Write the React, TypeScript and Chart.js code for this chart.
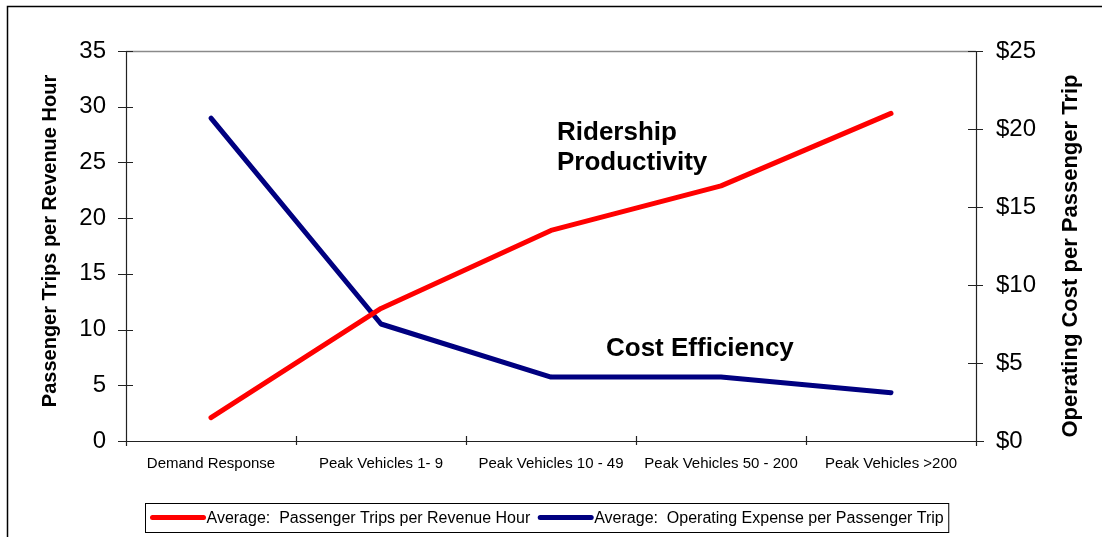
import React, { useEffect, useRef } from "react";
import { Chart, registerables } from "chart.js";

Chart.register(...registerables);

const FONT = "'Liberation Sans', Arial, Helvetica, sans-serif";

const categories = [
  "Demand Response",
  "Peak Vehicles 1- 9",
  "Peak Vehicles 10 - 49",
  "Peak Vehicles 50 - 200",
  "Peak Vehicles >200",
];
const tripsPerRevenueHour = [2.1, 11.9, 18.9, 22.9, 29.4];
const costPerPassengerTrip = [20.7, 7.5, 4.1, 4.1, 3.1];

const seriesLabels = [
  "Average:  Passenger Trips per Revenue Hour",
  "Average:  Operating Expense per Passenger Trip",
];
const seriesColors = ["#FF0000", "#000080"];

const leftAxisTitle = "Passenger Trips per Revenue Hour";
const rightAxisTitle = "Operating Cost per Passenger Trip";
const leftRange = [0, 35, 5];
const rightRange = [0, 25, 5];

const annotationLines = [
  { text: "Ridership", dx: 431, y: 133 },
  { text: "Productivity", dx: 431, y: 163 },
  { text: "Cost Efficiency", dx: 480, y: 349 },
];

const decorPlugin = {
  id: "decor",
  beforeDatasetsDraw(chart: any) {
    const ctx = chart.ctx;
    const a = chart.chartArea;
    const x = chart.scales.x;
    const yl = chart.scales.y;
    const yr = chart.scales.y1;
    ctx.save();
    ctx.strokeStyle = "#000";
    ctx.lineWidth = 1.5;
    ctx.beginPath();
    ctx.moveTo(7.5, chart.height + 2);
    ctx.lineTo(7.5, 6.5);
    ctx.lineTo(chart.width + 2, 6.5);
    ctx.stroke();

    ctx.strokeStyle = "#8a8a8a";
    ctx.lineWidth = 1.5;
    ctx.beginPath();
    ctx.moveTo(a.left, a.top + 0.5);
    ctx.lineTo(a.right, a.top + 0.5);
    ctx.stroke();

    ctx.strokeStyle = "#222";
    ctx.lineWidth = 1.2;
    ctx.beginPath();
    ctx.moveTo(a.left + 0.5, a.top);
    ctx.lineTo(a.left + 0.5, a.bottom + 5);
    ctx.moveTo(a.right + 0.5, a.top);
    ctx.lineTo(a.right + 0.5, a.bottom + 5);
    ctx.moveTo(a.left - 8, a.bottom + 0.5);
    ctx.lineTo(a.right + 8, a.bottom + 0.5);
    for (let v = leftRange[0]; v <= leftRange[1]; v += leftRange[2]) {
      const py = Math.round(yl.getPixelForValue(v)) + 0.5;
      ctx.moveTo(a.left - 8, py);
      ctx.lineTo(a.left + 7, py);
    }
    for (let v = rightRange[0]; v <= rightRange[1]; v += rightRange[2]) {
      const py = Math.round(yr.getPixelForValue(v)) + 0.5;
      ctx.moveTo(a.right - 8, py);
      ctx.lineTo(a.right + 7, py);
    }
    const n = categories.length;
    for (let i = 0; i <= n; i++) {
      let px;
      if (i === 0) px = a.left;
      else if (i === n) px = a.right;
      else px = (x.getPixelForTick(i - 1) + x.getPixelForTick(i)) / 2;
      px = Math.round(px) + 0.5;
      ctx.moveTo(px, a.bottom - 5);
      ctx.lineTo(px, a.bottom + 4);
    }
    ctx.stroke();
    ctx.restore();
  },
  afterDraw(chart: any) {
    const ctx = chart.ctx;
    const a = chart.chartArea;
    ctx.save();
    ctx.fillStyle = "#000";
    ctx.textAlign = "center";
    ctx.textBaseline = "middle";
    ctx.font = `bold 20px ${FONT}`;
    ctx.save();
    ctx.translate(50, 241);
    ctx.rotate(-Math.PI / 2);
    ctx.fillText(leftAxisTitle, 0, 0);
    ctx.restore();
    ctx.font = `bold 22px ${FONT}`;
    ctx.save();
    ctx.translate(1071, 256);
    ctx.rotate(-Math.PI / 2);
    ctx.fillText(rightAxisTitle, 0, 0);
    ctx.restore();

    ctx.font = `bold 26px ${FONT}`;
    ctx.textAlign = "left";
    for (const an of annotationLines) {
      ctx.fillText(an.text, a.left + an.dx, an.y);
    }

    ctx.font = `16px ${FONT}`;
    const sample = 55;
    const gap = 8;
    const pad = 5;
    const w0 = ctx.measureText(seriesLabels[0]).width;
    const w1 = ctx.measureText(seriesLabels[1]).width;
    const total = pad + sample + 1 + w0 + gap + sample + 1 + w1 + pad;
    const cx = 547;
    const bx = Math.round(cx - total / 2) + 0.5;
    const by = 503.5;
    const bh = 29;
    ctx.strokeStyle = "#000";
    ctx.lineWidth = 1;
    ctx.strokeRect(bx, by, total, bh);
    const my = by + bh / 2 - 0.5;
    let cur = bx + pad;
    const items = [w0, w1];
    ctx.lineCap = "round";
    for (let i = 0; i < 2; i++) {
      ctx.strokeStyle = seriesColors[i];
      ctx.lineWidth = 5;
      ctx.beginPath();
      ctx.moveTo(cur + 2, my);
      ctx.lineTo(cur + sample - 2, my);
      ctx.stroke();
      cur += sample + 1;
      ctx.fillStyle = "#000";
      ctx.textBaseline = "middle";
      ctx.fillText(seriesLabels[i], cur, my + 1);
      cur += items[i] + gap;
    }
    ctx.restore();
  },
};

export default function App() {
  const ref = useRef<HTMLCanvasElement | null>(null);
  useEffect(() => {
    if (!ref.current) return;
    Chart.defaults.font.family = FONT;
    const chart = new Chart(ref.current, {
      type: "line",
      data: {
        labels: categories,
        datasets: [
          {
            label: seriesLabels[0],
            data: tripsPerRevenueHour,
            borderColor: seriesColors[0],
            backgroundColor: seriesColors[0],
            borderWidth: 5,
            pointRadius: 0,
            tension: 0,
            borderCapStyle: "round",
            borderJoinStyle: "round",
            yAxisID: "y",
          },
          {
            label: seriesLabels[1],
            data: costPerPassengerTrip,
            borderColor: seriesColors[1],
            backgroundColor: seriesColors[1],
            borderWidth: 5,
            pointRadius: 0,
            tension: 0,
            borderCapStyle: "round",
            borderJoinStyle: "round",
            yAxisID: "y1",
          },
        ],
      },
      options: {
        responsive: false,
        animation: false,
        events: [],
        layout: { padding: { top: 51, bottom: 50, left: 0, right: 0 } },
        plugins: {
          legend: { display: false },
          tooltip: { enabled: false },
          title: { display: false },
        },
        scales: {
          x: {
            type: "category",
            offset: true,
            grid: { display: false },
            border: { display: false },
            ticks: {
              color: "#000",
              font: { size: 15 },
              padding: 6,
              maxRotation: 0,
              autoSkip: false,
            },
            afterFit: (s: any) => {
              s.height = 46;
            },
          },
          y: {
            position: "left",
            min: leftRange[0],
            max: leftRange[1],
            grid: { display: false },
            border: { display: false },
            ticks: { stepSize: leftRange[2], color: "#000", font: { size: 24 }, padding: 12 },
            afterFit: (s: any) => {
              s.width = 126;
            },
          },
          y1: {
            position: "right",
            min: rightRange[0],
            max: rightRange[1],
            grid: { display: false },
            border: { display: false },
            ticks: {
              stepSize: rightRange[2],
              color: "#000",
              font: { size: 24 },
              padding: 12,
              callback: (v: any) => "$" + v,
            },
            afterFit: (s: any) => {
              s.width = 126;
            },
          },
        },
      } as any,
      plugins: [decorPlugin],
    });
    return () => chart.destroy();
  }, []);
  return (
    <div style={{ position: "absolute", left: 0, top: 0, width: 1102, height: 537, background: "#fff" }}>
      <canvas ref={ref} width={1102} height={537} style={{ display: "block" }} />
    </div>
  );
}
